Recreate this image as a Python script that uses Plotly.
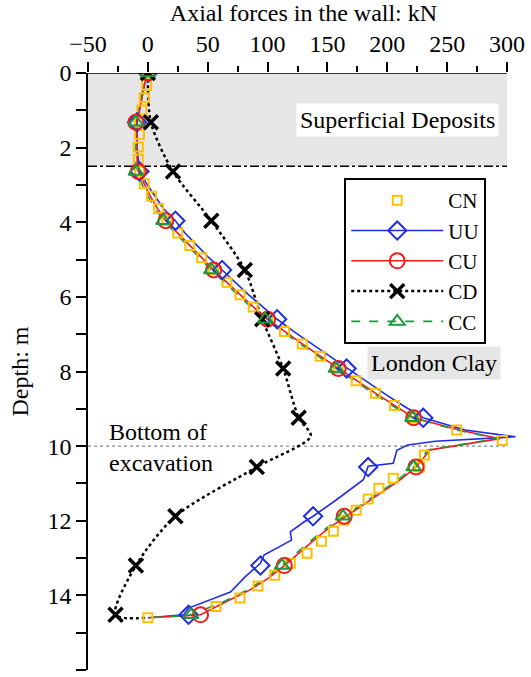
import plotly.graph_objects as go

# ---------------- data ----------------
# CN : yellow open squares only
cn_depth = [0, 0.33, 0.66, 0.99, 1.32, 1.65, 1.98, 2.31, 2.64, 2.97, 3.30, 3.63, 3.96, 4.29,
            4.62, 4.95, 5.28, 5.61, 5.94, 6.27, 6.60, 6.93, 7.26, 7.59, 7.92, 8.25, 8.58, 8.91,
            9.24, 9.57, 9.85, 10.24, 10.56, 10.86, 11.13, 11.42, 11.72, 11.98, 12.28, 12.55,
            12.87, 13.14, 13.46, 13.75, 14.07, 14.30, 14.60]
cn_force = [0, -1, -3, -5, -7, -7, -8, -8, -7, -3, 3, 9, 16, 25,
            35, 45, 55, 66, 77, 88, 100, 114, 129, 144, 159, 174, 190, 206,
            222, 258, 296, 231, 227, 205, 193, 184, 174, 164, 155, 145,
            133, 119, 106, 92, 77, 57, 0]

# UU : blue line
uu_depth = [0, 0.33, 0.66, 0.99, 1.32, 1.65, 1.98, 2.31, 2.64, 2.97, 3.30, 3.63, 3.96, 4.29,
            4.62, 4.95, 5.28, 5.61, 5.94, 6.27, 6.60, 6.93, 7.26, 7.59, 7.92, 8.25, 8.58, 8.91,
            9.24, 9.57, 9.75, 9.87, 9.97, 10.11, 10.46, 10.54, 10.90, 11.45, 11.77, 11.88, 12.04,
            12.30, 12.52, 12.92, 13.14, 13.51, 13.91, 14.18, 14.34, 14.52, 14.60]
uu_force = [0, -3, -5, -7, -9, -9, -9, -8, -7, -1, 6, 13, 23, 31,
            41, 51, 62, 73, 84, 96, 108, 122, 137, 151, 166, 181, 197, 213,
            230, 265, 307, 240, 217, 208, 205, 184, 180, 157, 143, 138, 130,
            119, 120, 97, 94, 81, 69, 48, 34, 30, 0]

# CU : red line
cu_depth = [0, 0.33, 0.66, 0.99, 1.32, 1.65, 1.98, 2.31, 2.64, 2.97, 3.30, 3.63, 3.96, 4.29,
            4.62, 4.95, 5.28, 5.61, 5.94, 6.27, 6.60, 6.93, 7.26, 7.59, 7.92, 8.25, 8.58, 8.91,
            9.24, 9.57, 9.80, 10.10, 10.56, 10.90, 11.20, 11.55, 11.88, 12.20, 12.54, 12.87,
            13.20, 13.53, 13.86, 14.19, 14.52, 14.55, 14.60]
cu_force = [0, -3, -5, -7, -10, -9, -9, -9, -8, -3, 2, 8, 15, 25,
            35, 45, 55, 66, 77, 88, 100, 114, 129, 144, 159, 174, 190, 206,
            222, 260, 294, 236, 224, 211, 197, 181, 165, 151, 138, 126,
            114, 101, 85, 64, 44, 30, 0]

# CC : green dashed line
cc_depth = [0, 0.33, 0.66, 0.99, 1.32, 1.65, 1.98, 2.31, 2.64, 2.97, 3.30, 3.63, 3.96, 4.29,
            4.62, 4.95, 5.28, 5.61, 5.94, 6.27, 6.60, 6.93, 7.26, 7.59, 7.92, 8.25, 8.58, 8.91,
            9.24, 9.57, 9.80, 10.10, 10.56, 10.90, 11.20, 11.55, 11.88, 12.20, 12.54, 12.87,
            13.20, 13.53, 13.86, 14.19, 14.52, 14.55, 14.60]
cc_force = [0, -3, -6, -8, -10, -10, -10, -10, -10, -5, 0, 6, 13, 23,
            33, 43, 53, 64, 75, 86, 98, 112, 127, 142, 157, 172, 188, 204,
            221, 258, 292, 234, 222, 209, 195, 179, 163, 149, 136, 124,
            112, 99, 83, 62, 36, 28, 0]

# CD : black dotted line
cd_depth = [0, 1.32, 2.64, 3.96, 5.28, 6.60, 7.92, 9.24, 9.73, 10.56, 11.88, 13.20, 14.52, 14.60]
cd_force = [0, 2.5, 21, 53, 81, 95.5, 113, 126, 136, 91, 23, -10, -27, 0]

# marker positions (every 1.32 m)
mk_depth = [0, 1.32, 2.64, 3.96, 5.28, 6.60, 7.92, 9.24, 10.56, 11.88, 13.20, 14.52]
uu_mk = [0, -9, -7, 23, 62, 108, 166, 230, 184, 138, 94, 34]
cu_mk = [0, -10, -8, 15, 55, 100, 159, 222, 224, 164, 114, 44]
cd_mk = [0, 2.5, 21, 53, 81, 95.5, 113, 126, 91, 23, -10, -27]
cc_mk = [0, -10, -10, 13, 53, 98, 157, 221, 222, 163, 112, 36]

x_ticks = [-50, 0, 50, 100, 150, 200, 250, 300]
y_ticks = [0, 2, 4, 6, 8, 10, 12, 14, 16]

FONT = "Liberation Serif, Times New Roman, serif"
BLUE = "#1f2fe0"
RED = "#ee1c1c"
GREEN = "#1e9a3c"
YELLOW = "#ffc000"

fig = go.Figure()

# background band and reference lines
fig.add_shape(type="rect", xref="x", yref="y", x0=-50, x1=300, y0=0, y1=2.5,
              fillcolor="#e6e6e6", line_width=0, layer="below")
fig.add_shape(type="line", xref="x", yref="y", x0=-50, x1=300, y0=2.5, y1=2.5,
              line=dict(color="black", width=1.5, dash="dashdot"), layer="below")
fig.add_shape(type="line", xref="x", yref="y", x0=-50, x1=300, y0=10, y1=10,
              line=dict(color="#888888", width=1.2, dash="dot"), layer="below")
# top axis line ending at the 300 tick
fig.add_shape(type="line", xref="x", yref="y", x0=-50, x1=300, y0=0, y1=0,
              line=dict(color="black", width=1.5), layer="above")

# lines (no legend)
fig.add_trace(go.Scatter(x=cd_force, y=cd_depth, mode="lines", showlegend=False,
                         line=dict(color="black", width=2.5, dash="dot", shape="spline", smoothing=0.8)))
fig.add_trace(go.Scatter(x=uu_force, y=uu_depth, mode="lines", showlegend=False,
                         line=dict(color=BLUE, width=1.6)))
fig.add_trace(go.Scatter(x=cu_force, y=cu_depth, mode="lines", showlegend=False,
                         line=dict(color=RED, width=1.6)))
fig.add_trace(go.Scatter(x=cc_force, y=cc_depth, mode="lines", showlegend=False,
                         line=dict(color=GREEN, width=1.6, dash="dash")))

# markers
fig.add_trace(go.Scatter(x=cn_force, y=cn_depth, mode="markers", name="CN",
                         marker=dict(symbol="square-open", size=9, color=YELLOW,
                                     line=dict(width=2, color=YELLOW))))
fig.add_trace(go.Scatter(x=uu_mk, y=mk_depth, mode="markers", showlegend=False,
                         marker=dict(symbol="diamond-open", size=14, color=BLUE,
                                     line=dict(width=2, color=BLUE))))
fig.add_trace(go.Scatter(x=cu_mk, y=mk_depth, mode="markers", showlegend=False,
                         marker=dict(symbol="circle-open", size=15, color=RED,
                                     line=dict(width=2, color=RED))))
fig.add_trace(go.Scatter(x=cd_mk, y=mk_depth, mode="markers", showlegend=False,
                         marker=dict(symbol="x-thin-open", size=14, color="black",
                                     line=dict(width=3.5, color="black"))))
fig.add_trace(go.Scatter(x=cc_mk, y=mk_depth, mode="markers", showlegend=False,
                         marker=dict(symbol="triangle-up-open", size=13, color=GREEN,
                                     line=dict(width=2, color=GREEN))))

# legend entries (line + marker)
leg = [("UU", BLUE, "solid", "diamond-open", 14, 2),
       ("CU", RED, "solid", "circle-open", 15, 2),
       ("CD", "black", "dot", "x-thin-open", 14, 3.5),
       ("CC", GREEN, "dash", "triangle-up-open", 13, 2)]
for name, col, dash, sym, sz, lw in leg:
    fig.add_trace(go.Scatter(x=[None], y=[None], mode="lines+markers", name=name,
                             line=dict(color=col, width=1.6 if dash != "dot" else 2.5, dash=dash),
                             marker=dict(symbol=sym, size=sz, color=col, line=dict(width=lw, color=col))))

# annotations
fig.add_annotation(x=293, y=1.26, xref="x", yref="y", text="Superficial Deposits",
                   showarrow=False, xanchor="right", yanchor="middle", bgcolor="white",
                   borderpad=3, font=dict(family=FONT, size=24, color="black"))
fig.add_annotation(x=295, y=7.77, xref="x", yref="y", text="London Clay",
                   showarrow=False, xanchor="right", yanchor="middle", bgcolor="#e6e6e6",
                   borderpad=3, font=dict(family=FONT, size=24, color="black"))
fig.add_annotation(x=-34.5, y=10.03, xref="x", yref="y", text="Bottom of<br>excavation",
                   showarrow=False, xanchor="left", yanchor="middle", align="left",
                   font=dict(family=FONT, size=24, color="black"))

fig.update_layout(
    width=531, height=677,
    margin=dict(l=88, r=6, t=73, b=7),
    paper_bgcolor="white", plot_bgcolor="white",
    font=dict(family=FONT, size=24, color="black"),
    legend=dict(x=0.5945, y=0.824, xanchor="left", yanchor="top",
                bordercolor="black", borderwidth=2, bgcolor="white",
                font=dict(family=FONT, size=21), itemwidth=92,
                traceorder="normal"),
    xaxis=dict(side="top", range=[-50, 310], tickvals=x_ticks,
               ticks="outside", ticklen=10, tickwidth=1.5, tickcolor="black", showline=False,
               showgrid=False, zeroline=False,
               minor=dict(tickvals=[-25, 25, 75, 125, 175, 225, 275], ticks="outside",
                          ticklen=6, tickwidth=1.5, tickcolor="black"),
               tickfont=dict(family=FONT, size=24),
               title=dict(text="Axial forces in the wall: kN", standoff=8,
                          font=dict(family=FONT, size=24))),
    yaxis=dict(range=[16, 0], tickvals=y_ticks,
               ticks="outside", ticklen=10, tickwidth=1.5, tickcolor="black", showline=True,
               linecolor="black", linewidth=1.5, showgrid=False, zeroline=False,
               minor=dict(tickvals=[1, 3, 5, 7, 9, 11, 13, 15], ticks="outside",
                          ticklen=10, tickwidth=1.5, tickcolor="black"),
               tickfont=dict(family=FONT, size=24),
               title=dict(text="Depth: m", standoff=12, font=dict(family=FONT, size=24))),
)

fig.write_html("out.html")
